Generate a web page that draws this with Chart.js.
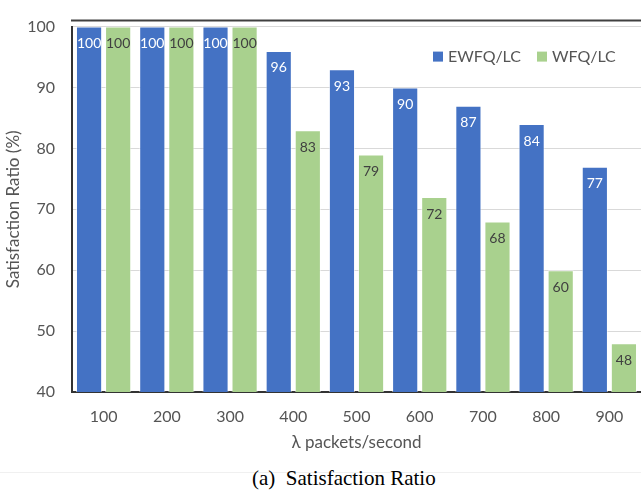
<!DOCTYPE html>
<html>
<head>
<meta charset="utf-8">
<script src="https://cdn.jsdelivr.net/npm/chart.js@4.4.1/dist/chart.umd.min.js"></script>
<style>
  html, body { margin: 0; padding: 0; background: #fff; }
  #wrap { position: relative; width: 641px; height: 491px; overflow: hidden; }
  #c { position: absolute; left: 0; top: 0; }
  #rule { position: absolute; left: 0; top: 472px; width: 641px; height: 1px; background: #f0f0f0; }
  #caption { position: absolute; left: 252px; top: 466px; font: 21px/24px "Liberation Serif", "Times New Roman", serif; color: #000; white-space: nowrap; }
</style>
</head>
<body>
<div id="wrap">
  <canvas id="c" width="641" height="460"></canvas>
  <div id="rule"></div>
  <div id="caption">(a)&ensp;Satisfaction Ratio</div>
</div>
<script>
// Arrival rates (packets/second)
const rates = ['100', '200', '300', '400', '500', '600', '700', '800', '900'];
// Satisfaction ratio (%) per scheduler
const ewfqLc = [100, 100, 100, 96, 93, 90, 87, 84, 77];
const wfqLc = [100, 100, 100, 83, 79, 72, 68, 60, 48];
const seriesNames = ['EWFQ/LC', 'WFQ/LC'];
const yMin = 40, yMax = 100, yStep = 10;

const BLUE = '#4472C4';
const GREEN = '#A9D18E';
const TEXT = '#555555';
const FONT = 'Lato, "Open Sans", sans-serif';

// Value printed just inside the top of every bar
const valueLabels = {
  id: 'valueLabels',
  afterDatasetsDraw(chart) {
    const ctx = chart.ctx;
    ctx.save();
    ctx.font = '14px ' + FONT;
    ctx.textAlign = 'center';
    ctx.textBaseline = 'middle';
    chart.data.datasets.forEach((ds, i) => {
      const meta = chart.getDatasetMeta(i);
      ctx.fillStyle = ds.labelColor;
      meta.data.forEach((bar, j) => {
        ctx.fillText(String(ds.data[j]), bar.x, bar.y + 17);
      });
    });
    ctx.restore();
  }
};

// Dark frame line above the plot and the legend in the upper right
const frameAndLegend = {
  id: 'frameAndLegend',
  afterDraw(chart) {
    const ctx = chart.ctx;
    const a = chart.chartArea;
    ctx.save();
    ctx.strokeStyle = '#404040';
    ctx.lineWidth = 2;
    ctx.beginPath();
    ctx.moveTo(a.left - 1, a.top - 6);
    ctx.lineTo(chart.width, a.top - 6);
    ctx.stroke();

    ctx.font = '16px ' + FONT;
    ctx.textBaseline = 'middle';
    ctx.textAlign = 'left';
    const y = a.top + 30;
    const xs = [a.right - 208, a.right - 104];
    chart.data.datasets.forEach((ds, i) => {
      ctx.fillStyle = ds.backgroundColor;
      ctx.fillRect(xs[i], y - 5, 10, 10);
      ctx.fillStyle = TEXT;
      ctx.fillText(ds.label, xs[i] + 15, y);
    });
    ctx.restore();
  }
};

new Chart(document.getElementById('c'), {
  type: 'bar',
  data: {
    labels: rates,
    datasets: [
      { label: seriesNames[0], data: ewfqLc, backgroundColor: BLUE, borderColor: 'rgba(255,255,255,0.55)', borderWidth: 1, labelColor: '#ffffff' },
      { label: seriesNames[1], data: wfqLc, backgroundColor: GREEN, borderColor: 'rgba(255,255,255,0.55)', borderWidth: 1, labelColor: '#404040' }
    ]
  },
  options: {
    responsive: false,
    animation: false,
    devicePixelRatio: 1,
    layout: { padding: { top: 13, right: 0, bottom: 0, left: 0 } },
    datasets: { bar: { categoryPercentage: 0.92, barPercentage: 0.9 } },
    plugins: { legend: { display: false }, tooltip: { enabled: false } },
    scales: {
      x: {
        grid: { display: false, drawTicks: false },
        border: { display: true, color: '#333333', width: 2 },
        ticks: { color: TEXT, font: { family: FONT, size: 16 }, padding: 15 },
        title: { display: true, text: 'λ packets/second', color: TEXT, font: { family: FONT, size: 17 }, padding: { top: 0, bottom: 7 } },
        afterFit(scale) { scale.height = 68; }
      },
      y: {
        min: yMin, max: yMax,
        grid: { color: '#d9d9d9', lineWidth: 1, drawTicks: false },
        border: { display: true, color: '#333333', width: 2 },
        ticks: { stepSize: yStep, color: TEXT, font: { family: FONT, size: 16 }, padding: 17 },
        title: { display: true, text: 'Satisfaction Ratio (%)', color: TEXT, font: { family: FONT, size: 17 }, padding: { top: 3, bottom: 0 } },
        afterFit(scale) { scale.width = 72; }
      }
    }
  },
  plugins: [valueLabels, frameAndLegend]
});
</script>
</body>
</html>
